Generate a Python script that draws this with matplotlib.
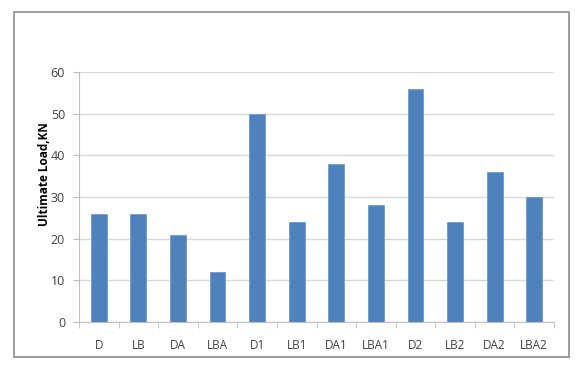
import numpy as np
import matplotlib.pyplot as plt
from matplotlib.patches import Rectangle

categories = ["D", "LB", "DA", "LBA", "D1", "LB1", "DA1", "LBA1", "D2", "LB2", "DA2", "LBA2"]
loads = [26, 26, 21, 12, 50, 24, 38, 28, 56, 24, 36, 30]

plt.rcParams["font.family"] = ["Open Sans", "DejaVu Sans"]

fig = plt.figure(figsize=(5.82, 3.71), dpi=100)
W, H = 582, 371

# outer chart frame
fig.patches.append(Rectangle((14 / W, 1 - 357 / H), 555 / W, 345 / H,
                             transform=fig.transFigure, fill=False,
                             edgecolor="#8c8c8c", linewidth=1.2))

ax = fig.add_axes([79 / W, 1 - 322 / H, 475 / W, 250 / H])
x = np.arange(len(categories))
ax.bar(x, loads, width=0.4, color="#4F81BD", edgecolor="#6f9bd0", linewidth=0.6, zorder=3)

ax.set_xlim(-0.5, len(categories) - 0.5)
ax.set_ylim(0, 60)
ax.set_yticks(np.arange(0, 61, 10))
ax.set_xticks(x)
ax.set_xticklabels(categories)
ax.set_xticks(np.arange(-0.5, len(categories)), minor=True)
ax.tick_params(axis="x", which="major", length=0, pad=12, labelsize=8.5, labelcolor="#404040")
ax.tick_params(axis="x", which="minor", length=4, color="#bfbfbf", direction="out")
ax.tick_params(axis="y", length=4, color="#bfbfbf", labelsize=9, labelcolor="#404040", pad=6)

ax.grid(axis="y", color="#d9d9d9", linewidth=1, zorder=0)
for side in ["top", "right"]:
    ax.spines[side].set_visible(False)
for side in ["left", "bottom"]:
    ax.spines[side].set_color("#bfbfbf")

ax.set_ylabel("Ultimate Load,KN", fontsize=8.5, fontweight="bold")
ax.yaxis.set_label_coords(-0.06, 0.59)

fig.savefig("out.png", dpi=100)
